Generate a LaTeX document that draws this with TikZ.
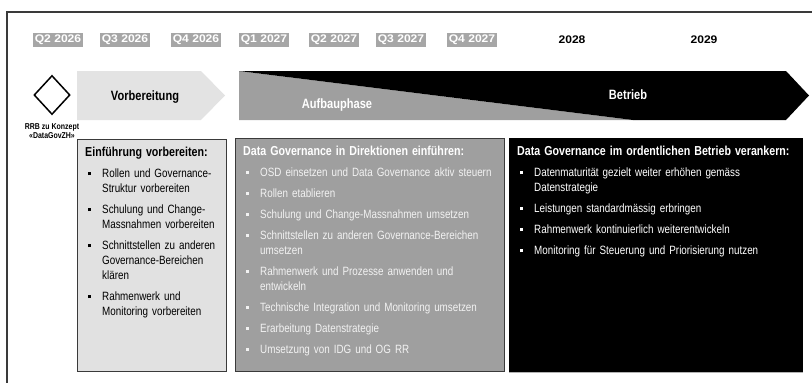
\documentclass[tikz,border=0pt]{standalone}
\usepackage{fontspec}
\setmainfont{Liberation Sans}[FakeStretch=0.82]
\newfontfamily\qfont{Liberation Sans}[FakeStretch=1.1]
\usetikzlibrary{shapes.geometric}
\definecolor{qgray}{HTML}{A6A6A6}
\definecolor{lightarrow}{HTML}{E3E3E3}
\definecolor{boxlight}{HTML}{E1E1E1}
\definecolor{midgray}{HTML}{9F9F9F}
\definecolor{lighttext}{HTML}{F2F2F2}
\definecolor{edge}{HTML}{3A3A3A}
\newcommand\bsq{\raisebox{2.5pt}{\rule{3.6pt}{3.6pt}}}
\newcommand\nl{\hfil\break}
\newcommand\titem[1]{\par\vspace{6pt}\hangindent=17pt\hangafter=1\noindent\makebox[17pt][l]{\hspace{2.5pt}\bsq}#1\par}
\newcommand\ttitle[1]{\noindent\textbf{\fontsize{13}{15}\selectfont #1}\par}
\tikzset{
  qlab/.style={fill=qgray, text=white, font=\qfont\bfseries\fontsize{11}{11}\selectfont, inner xsep=1.5pt, inner ysep=2.2pt},
  ylab/.style={text=black, font=\qfont\bfseries\fontsize{11}{11}\selectfont, inner sep=1pt},
  phaselab/.style={font=\bfseries\fontsize{13.5}{14}\selectfont, inner sep=0pt},
  caplab/.style={font=\bfseries\fontsize{8.5}{9}\selectfont, inner sep=0pt},
  boxbase/.style={anchor=north west, rectangle, inner sep=0pt},
  boxtext/.style={anchor=north west, inner sep=0pt, align=left, font=\fontsize{12}{15}\selectfont},
  frame/.style={draw=edge, line width=1.1pt}
}
\begin{document}
\begin{tikzpicture}[x=1pt,y=-1pt]
\useasboundingbox (0,0) rectangle (812,383);
% outer frame (left and top only)
\coordinate (fbl) at (7,383);
\coordinate (ftl) at (7,12);
\coordinate (ftr) at (812,12);
\draw[frame] (fbl) -- (ftl) -- (ftr);

% timeline labels
\node[qlab] (q1) at (58,40) {Q2 2026};
\node[qlab] (q2) at (125,40) {Q3 2026};
\node[qlab] (q3) at (196,40) {Q4 2026};
\node[qlab] (q4) at (264,40) {Q1 2027};
\node[qlab] (q5) at (334,40) {Q2 2027};
\node[qlab] (q6) at (401,40) {Q3 2027};
\node[qlab] (q7) at (472,40) {Q4 2027};
\node[ylab] (y8) at (572,40) {2028};
\node[ylab] (y9) at (704,40) {2029};

% milestone
\node[diamond, draw=black, line width=1.5pt, fill=white, minimum width=36pt, minimum height=39pt, inner sep=0pt] (ms) at (52,95) {};
\node[caplab] (rrb) at (52,127) {RRB zu Konzept};
\node[caplab] (dgz) at (52,136) {«DataGovZH»};

% phase arrows
\fill[lightarrow] (77,71) -- (201,71) -- (225,95.5) -- (201,120) -- (77,120) -- cycle;
\fill[midgray] (239,71) -- (633,120) -- (239,120) -- cycle;
\fill[black] (239,71) -- (786,71) -- (809,95.5) -- (786,120) -- (633,120) -- cycle;
\node[phaselab, text=black] (pv) at (145,97) {Vorbereitung};
\node[phaselab, text=white] (pa) at (337,105) {Aufbauphase};
\node[phaselab, text=white] (pb) at (628,95) {Betrieb};

% boxes
\node[boxbase, fill=boxlight, draw=edge, line width=0.9pt, minimum width=149pt, minimum height=232pt] (b1) at (77,139) {};
\node[boxbase, fill=midgray, draw=edge, line width=0.9pt, minimum width=269pt, minimum height=233pt] (b2) at (235,138) {};
\node[boxbase, fill=black, draw=black, line width=0.6pt, minimum width=293pt, minimum height=234pt] (b3) at (509,138) {};
\draw[gray!60, line width=0.8pt] (b3.south west) -- (b3.south east);

\node[boxtext, text width=140pt, text=black] (t1) at ([xshift=8pt,yshift=-8pt]b1.north west) {%
\ttitle{Einführung vorbereiten:}
\titem{Rollen und Governance-\nl Struktur vorbereiten}
\titem{Schulung und Change-\nl Massnahmen vorbereiten}
\titem{Schnittstellen zu anderen\nl Governance-Bereichen\nl klären}
\titem{Rahmenwerk und\nl Monitoring vorbereiten}};

\node[boxtext, text width=262pt, text=lighttext] (t2) at ([xshift=8pt,yshift=-8pt]b2.north west) {%
{\color{white}\ttitle{Data Governance in Direktionen einführen:}}
\titem{OSD einsetzen und Data Governance aktiv steuern}
\titem{Rollen etablieren}
\titem{Schulung und Change-Massnahmen umsetzen}
\titem{Schnittstellen zu anderen Governance-Bereichen\nl umsetzen}
\titem{Rahmenwerk und Prozesse anwenden und\nl entwickeln}
\titem{Technische Integration und Monitoring umsetzen}
\titem{Erarbeitung Datenstrategie}
\titem{Umsetzung von IDG und OG RR}};

\node[boxtext, text width=285pt, text=white] (t3) at ([xshift=8pt,yshift=-8pt]b3.north west) {%
\ttitle{Data Governance im ordentlichen Betrieb verankern:}
\titem{Datenmaturität gezielt weiter erhöhen gemäss\nl Datenstrategie}
\titem{Leistungen standardmässig erbringen}
\titem{Rahmenwerk kontinuierlich weiterentwickeln}
\titem{Monitoring für Steuerung und Priorisierung nutzen}};
\end{tikzpicture}
\end{document}
